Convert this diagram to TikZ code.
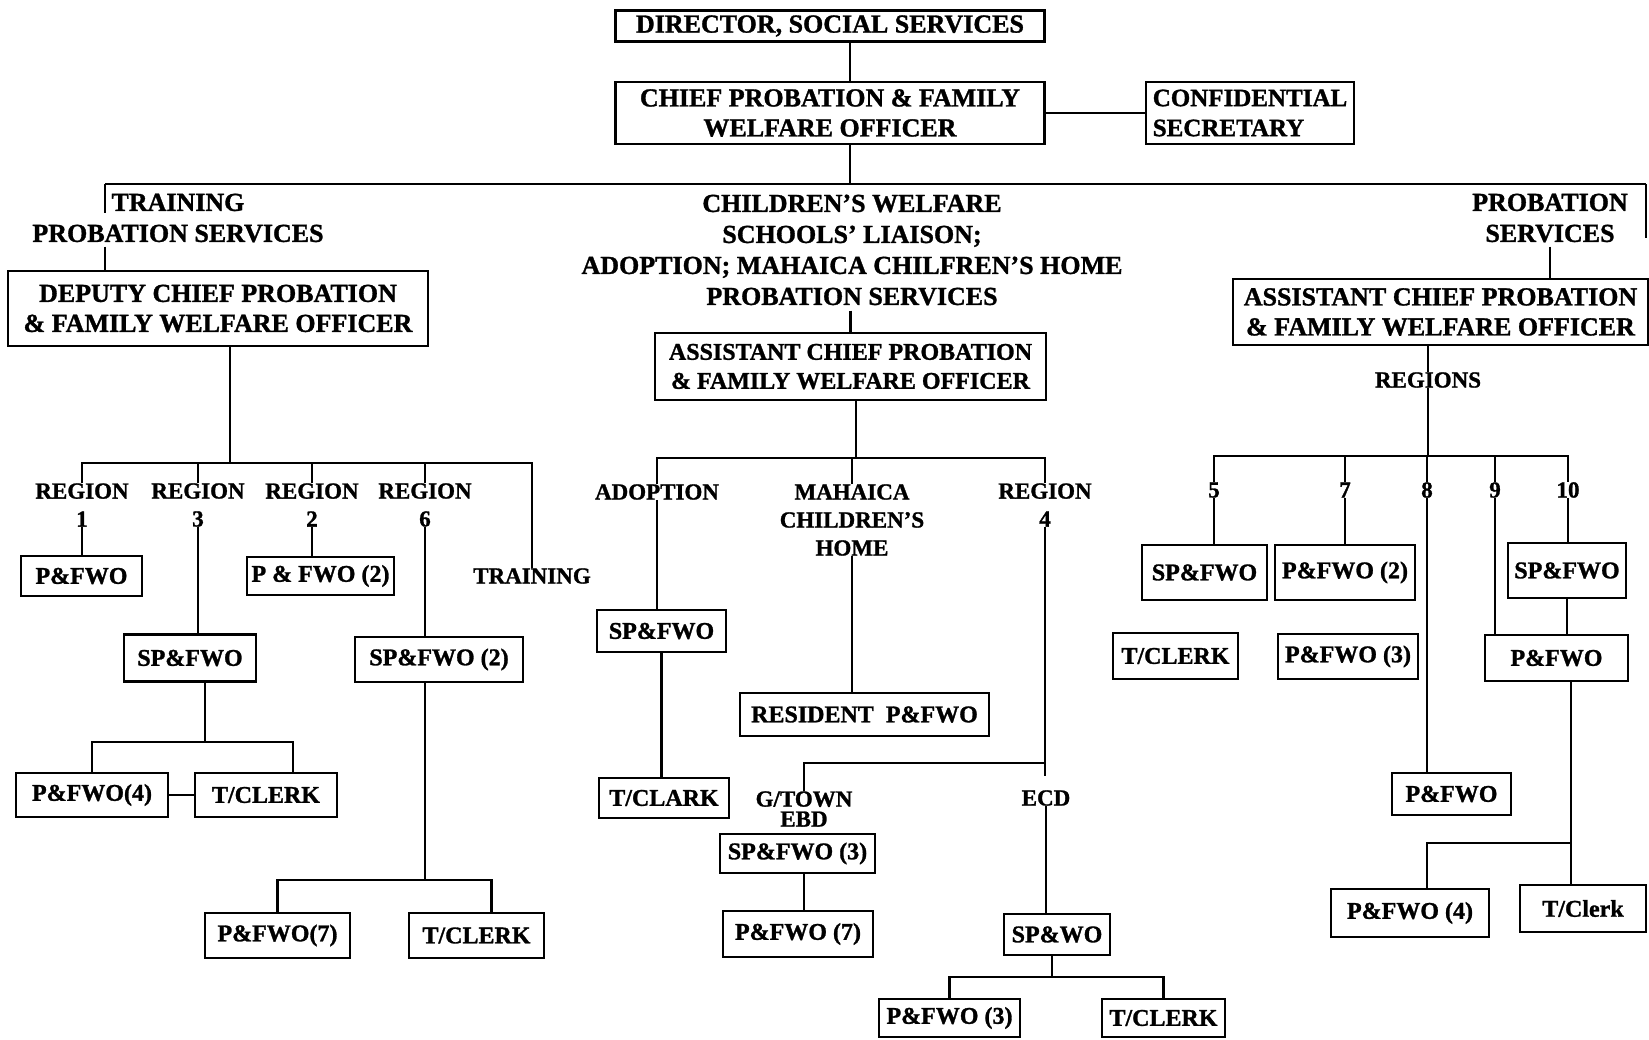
\documentclass[tikz,border=0pt]{standalone}
\usepackage{fontspec}
\setmainfont{Liberation Serif}[BoldFeatures={FakeBold=1.2}]

\begin{document}
\begin{tikzpicture}[x=1pt, y=-1pt,
  post/.style={draw, line width=2.8pt, inner sep=0pt, align=center, font=\fontsize{24}{29}\selectfont\bfseries},
  bigpost/.style={post, font=\fontsize{26}{30}\selectfont\bfseries},
  head/.style={inner sep=0pt, align=center, font=\fontsize{26}{31}\selectfont\bfseries},
  lab/.style={inner sep=0pt, align=center, font=\fontsize{23}{28}\selectfont\bfseries},
  wire/.style={line width=2.6pt}
]
\useasboundingbox (0,0) rectangle (1649,1040);

% top of the chart
\node[bigpost, minimum width=429pt, minimum height=31pt] (dir) at (830,26) {DIRECTOR, SOCIAL SERVICES};
\node[bigpost, minimum width=429pt, minimum height=62pt] (chief) at (830,113) {CHIEF PROBATION \& FAMILY\\WELFARE OFFICER};
\node[post, minimum width=208pt, minimum height=62pt, align=left, font=\fontsize{25}{30}\selectfont\bfseries] (conf) at (1250,113) {CONFIDENTIAL\\SECRETARY};

\coordinate (top) at (850,184);
\coordinate (busL) at (105,184);
\coordinate (busR) at (1646,184);
\draw[wire] (dir.south -| top) -- (chief.north -| top);
\draw[wire] (chief.south -| top) -- (top);
\draw[wire] (chief.east) -- (conf.west);
\draw[wire] (busL) -- (busR);
\draw[wire] (busL) -- ++(0,29);
\draw[wire] (busR) -- ++(0,54);

% three wings
\node[head] (hdL) at (178,218) {TRAINING\\PROBATION SERVICES};
\node[head] (hdM) at (852,250) {CHILDREN'S WELFARE\\SCHOOLS' LIAISON;\\ADOPTION; MAHAICA CHILFREN'S HOME\\PROBATION SERVICES};
\node[head] (hdR) at (1550,218) {PROBATION\\SERVICES};

\node[bigpost, minimum width=420pt, minimum height=75pt] (dep) at (218,308.5) {DEPUTY CHIEF PROBATION\\\& FAMILY WELFARE OFFICER};
\node[post, minimum width=391pt, minimum height=67pt] (asstM) at (850.5,366.5) {ASSISTANT CHIEF PROBATION\\\& FAMILY WELFARE OFFICER};
\node[bigpost, minimum width=415pt, minimum height=66pt] (asstR) at (1440.5,312) {ASSISTANT CHIEF PROBATION\\\& FAMILY WELFARE OFFICER};

\draw[wire, shorten <=4pt] (hdL.south -| busL) -- (dep.north -| busL);
\draw[wire, shorten <=5pt] (hdM.south -| asstM.north) -- (asstM.north);
\draw[wire, shorten <=4pt] (hdR.south) -- (hdR.south |- asstR.north);

% left wing
\node[lab] (r1) at (82,505) {REGION\\1};
\node[lab] (r3) at (198,505) {REGION\\3};
\node[lab] (r2) at (312,505) {REGION\\2};
\node[lab] (r6) at (425,505) {REGION\\6};
\node[lab] (trn) at (532,576) {TRAINING};

\coordinate (busA) at (230,463);
\draw[wire] (dep.south -| busA) -- (busA);
\draw[wire] (r1.north) -- (r1.north |- busA) -| (trn.north);
\foreach \n in {r3,r2,r6} \draw[wire] (\n.north) -- (\n.north |- busA);

\node[post, minimum width=121pt, minimum height=40pt] (r1p) at (81.5,576) {P\&FWO};
\node[post, minimum width=147pt, minimum height=38pt] (r2p) at (320.5,576) {P \& FWO (2)};
\node[post, minimum width=132pt, minimum height=47pt] (r3s) at (190,658) {SP\&FWO};
\node[post, minimum width=168pt, minimum height=45pt] (r6s) at (439,659.5) {SP\&FWO (2)};
\node[post, minimum width=152pt, minimum height=44pt] (r3p) at (92,795) {P\&FWO(4)};
\node[post, minimum width=142pt, minimum height=44pt] (r3c) at (266,795) {T/CLERK};
\node[post, minimum width=145pt, minimum height=45pt] (r6p) at (277.5,935.5) {P\&FWO(7)};
\node[post, minimum width=135pt, minimum height=45pt] (r6c) at (476.5,935.5) {T/CLERK};

\draw[wire] (r1.south) -- (r1.south |- r1p.north);
\draw[wire] (r2.south) -- (r2.south |- r2p.north);
\draw[wire] (r3.south) -- (r3.south |- r3s.north);
\draw[wire] (r6.south) -- (r6.south |- r6s.north);

\coordinate (busB) at (205,742);
\draw[wire] (r3s.south -| busB) -- (busB);
\draw[wire] (r3p.north) -- (r3p.north |- busB) -| ([xshift=27pt]r3c.north);
\draw[wire] (r3p.east) -- (r3c.west);

\coordinate (busC) at (425,880);
\draw[wire] (r6s.south -| busC) -- (busC);
\draw[wire] (r6p.north) -- (r6p.north |- busC) -| ([xshift=15pt]r6c.north);

% middle wing
\node[lab] (adop) at (657,492) {ADOPTION};
\node[lab] (mah) at (852,520) {MAHAICA\\CHILDREN'S\\HOME};
\node[lab] (r4) at (1045,505) {REGION\\4};

\coordinate (busD) at (856,458);
\draw[wire] (asstM.south -| busD) -- (busD);
\draw[wire] (adop.north) -- (adop.north |- busD) -| (r4.north);
\draw[wire] (mah.north) -- (mah.north |- busD);

\node[post, minimum width=129pt, minimum height=42pt] (adops) at (661.5,631) {SP\&FWO};
\node[post, minimum width=130pt, minimum height=40pt] (adopc) at (664,798) {T/CLARK};
\node[post, minimum width=249pt, minimum height=43pt] (res) at (864.5,714.5) {RESIDENT~ P\&FWO};

\draw[wire] (adop.south) -- (adop.south |- adops.north);
\draw[wire] (adops.south) -- (adops.south |- adopc.north);
\draw[wire] (mah.south) -- (mah.south |- res.north);

\node[lab, align=center] (gtn) at (804,809) {G/TOWN\\[-8pt]EBD};
\node[lab] (ecd) at (1046,798) {ECD};
\node[post, minimum width=155pt, minimum height=39pt] (gtns) at (797.5,853.5) {SP\&FWO (3)};
\node[post, minimum width=150pt, minimum height=46pt] (gtnp) at (798,934) {P\&FWO (7)};
\node[post, minimum width=106pt, minimum height=41pt] (ecds) at (1057,934.5) {SP\&WO};
\node[post, minimum width=141pt, minimum height=38pt] (ecdp) at (949.5,1018) {P\&FWO (3)};
\node[post, minimum width=123pt, minimum height=38pt] (ecdc) at (1163.5,1018) {T/CLERK};

\coordinate (busE) at (1045,763);
\draw[wire, shorten >=14pt] (r4.south) -- (r4.south |- ecd.north);
\draw[wire] (r4.south |- busE) -| (gtn.north);
\draw[wire] (gtns.south -| gtn) -- (gtnp.north -| gtn);
\draw[wire] (ecd.south) -- (ecd.south |- ecds.north);

\coordinate (busF) at (1052,977);
\draw[wire] (ecds.south -| busF) -- (busF);
\draw[wire] (ecdp.north) -- (ecdp.north |- busF) -| (ecdc.north);

% right wing
\node[lab] (regs) at (1428,380) {REGIONS};
\draw[wire] (regs.north |- asstR.south) -- (regs.north);

\node[lab] (n5) at (1214,490) {5};
\node[lab] (n7) at (1345,490) {7};
\node[lab] (n8) at (1427,490) {8};
\node[lab] (n9) at (1495,490) {9};
\node[lab] (n10) at (1568,490) {10};

\coordinate (busG) at (1426,456);
\draw[wire] (regs.south) -- (regs.south |- busG);
\draw[wire] (n5.north) -- (n5.north |- busG) -| (n10.north);
\foreach \n in {n7,n8,n9} \draw[wire] (\n.north) -- (\n.north |- busG);

\node[post, minimum width=125pt, minimum height=55pt] (s5) at (1204.5,572.5) {SP\&FWO};
\node[post, minimum width=140pt, minimum height=55pt] (p7) at (1345,572.5) {P\&FWO (2)};
\node[post, minimum width=125pt, minimum height=46pt] (c5) at (1175.5,656) {T/CLERK};
\node[post, minimum width=140pt, minimum height=45pt] (p7b) at (1348,656.5) {P\&FWO (3)};
\node[post, minimum width=118pt, minimum height=55pt] (s10) at (1567,570.5) {SP\&FWO};
\node[post, minimum width=143pt, minimum height=46pt] (p9) at (1556.5,658) {P\&FWO};
\node[post, minimum width=119pt, minimum height=42pt] (p8) at (1451.5,794) {P\&FWO};
\node[post, minimum width=158pt, minimum height=48pt] (p4) at (1410,913) {P\&FWO (4)};
\node[post, minimum width=126pt, minimum height=47pt] (pc) at (1583,908.5) {T/Clerk};

\draw[wire] (n5.south) -- (n5.south |- s5.north);
\draw[wire] (n7.south) -- (n7.south |- p7.north);
\draw[wire] (n8.south) -- (n8.south |- p8.north);
\draw[wire] (n9.south) -- (n9.south |- p9.north);
\draw[wire] (n10.south) -- (n10.south |- s10.north);
\draw[wire] (s10.south) -- (s10.south |- p9.north);

\coordinate (busH) at (1571,843);
\draw[wire] (p9.south -| busH) -- (pc.north -| busH);
\draw[wire] ([xshift=17pt]p4.north) -- ([xshift=17pt]p4.north |- busH) -- (busH);
\end{tikzpicture}
\end{document}
